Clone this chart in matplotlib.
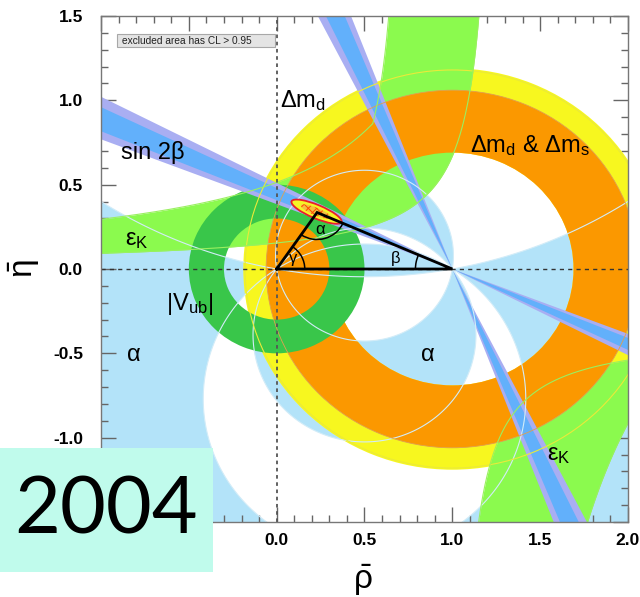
import numpy as np
import matplotlib
matplotlib.use("Agg")
import matplotlib.pyplot as plt
from matplotlib.patches import Wedge, Ellipse, Arc, Rectangle

plt.rcParams['font.family'] = ['Liberation Sans', 'DejaVu Sans']
plt.rcParams['mathtext.fontset'] = 'custom'
plt.rcParams['mathtext.rm'] = 'Liberation Sans'
plt.rcParams['mathtext.it'] = 'Liberation Sans'
plt.rcParams['mathtext.bf'] = 'Liberation Sans:bold'
plt.rcParams['hatch.linewidth'] = 0.7

# ---------------- data ----------------
x_lim = [-1.0, 2.0]
y_lim = [-1.5, 1.5]
x_ticks = [-1.0, -0.5, 0.0, 0.5, 1.0, 1.5, 2.0]
y_ticks = [-1.5, -1.0, -0.5, 0.0, 0.5, 1.0, 1.5]
x_tick_labels = ['', '', '0.0', '0.5', '1.0', '1.5', '2.0']      # first two hidden by the year box
y_tick_labels = ['', '-1.0', '-0.5', '0.0', '0.5', '1.0', '1.5']  # -1.5 hidden by the year box

apex = (0.23, 0.335)                 # (rho_bar, eta_bar) of the triangle apex

alpha_low = [81.0, 147.0]            # allowed alpha ranges, degrees, modulo 180
alpha_high = [128.0, 190.5]

sin2beta_outer = [0.67, 0.81]
sin2beta_inner = [0.70, 0.78]

dmd_radii = [0.69, 1.19]             # Delta m_d ring around (1,0)
dmd_dms_radii = [0.69, 1.06]         # Delta m_d & Delta m_s ring around (1,0)
vub_radii = [0.30, 0.50]             # |Vub| ring around (0,0)

# eps_K bands, hyperbolae eta = eta0 + k / (a - rho)  given as (a, k, eta0)
epsk_up_upper = [(1.352, 0.694, 0.0), (0.761, 0.1845, 0.0)]   # envelope (max)
epsk_up_lower = [(1.27, 0.1768, 0.0151)]
epsk_dn_upper = [(1.0, 0.169, -0.371)]
epsk_dn_lower = [(1.0, 1.963, 1.05)]

ellipse_outer = (0.227, 0.340, 0.31, 0.080, -23.5)   # cx, cy, width, height, angle
ellipse_inner = (0.225, 0.340, 0.19, 0.045, -23.5)

labels = [
    (r'$\Delta$m$_{\rm d}$', 0.02, 1.00),
    (r'$\Delta$m$_{\rm d}$ & $\Delta$m$_{\rm s}$', 1.10, 0.73),
    ('sin 2β', -0.885, 0.69),
    (r'ε$_{\rm K}$', -0.865, 0.17),
    (r'|V$_{\rm ub}$|', -0.63, -0.21),
    ('α', -0.85, -0.51),
    ('α', 0.82, -0.51),
    (r'ε$_{\rm K}$', 1.54, -1.10),
]

year = '2004'

# colours
c_alpha = '#b3e3f9'
c_yellow = '#f7f71f'
c_orange = '#fb9800'
c_epsk = '#8bfa4e'
c_vub = '#39c64a'
c_s2b_out = '#a9aef2'
c_s2b_in = '#62b0fb'

# ---------------- figure ----------------
fig = plt.figure(figsize=(6.4, 5.97), dpi=100)
ax = fig.add_axes([101 / 640, 1 - 522 / 597, 527 / 640, 506 / 597])
ax.set_xlim(*x_lim)
ax.set_ylim(*y_lim)

# alpha constraint: region on a grid
rr = np.linspace(x_lim[0] - 0.05, x_lim[1] + 0.05, 1100)
ee = np.linspace(y_lim[0] - 0.05, y_lim[1] + 0.05, 1100)
R, E = np.meshgrid(rr, ee)
Z = R + 1j * E
with np.errstate(all='ignore'):
    A = np.angle((Z - 1) / Z)
F = np.full(A.shape, -2.0)
for lo, hi in zip(alpha_low, alpha_high):
    c = np.radians(lo + hi)
    w = np.radians(hi - lo)
    F = np.maximum(F, np.cos(2 * A - c) - np.cos(w))
F = np.nan_to_num(F, nan=-1.0)
ax.contourf(R, E, F, levels=[0, 10], colors=[c_alpha], zorder=1, antialiased=True)

# Delta m_d (yellow)
ax.add_patch(Wedge((1, 0), dmd_radii[1], 0, 360, width=dmd_radii[1] - dmd_radii[0],
                   fc=c_yellow, ec='none', zorder=2))


# eps_K
def hyp(rho, params, upper_branch=True, mode='max'):
    vals = []
    for a, k, e0 in params:
        with np.errstate(all='ignore'):
            if upper_branch:
                v = np.where(rho < a, e0 + k / np.maximum(a - rho, 1e-9), np.inf)
            else:
                v = np.where(rho > a, e0 + k / np.minimum(a - rho, -1e-9), -np.inf)
        vals.append(v)
    vals = np.array(vals)
    return vals.max(axis=0) if mode == 'max' else vals.min(axis=0)


asym = [p[0] for p in epsk_up_upper + epsk_up_lower]
rho_up = np.concatenate([np.linspace(-1.1, 1.3, 3000)] +
                        [a - np.geomspace(0.5, 1e-4, 1500) for a in asym])
rho_up = np.unique(rho_up[rho_up < max(p[0] for p in epsk_up_lower)])
up_hi = np.clip(hyp(rho_up, epsk_up_upper, True, 'max'), -3, 3)
up_lo = np.clip(hyp(rho_up, epsk_up_lower, True, 'min'), -3, 3)
ax.fill_between(rho_up, up_lo, up_hi, where=up_lo < up_hi, color=c_epsk, lw=0, zorder=3)

rho_dn = np.unique(np.concatenate([np.linspace(1.0, 2.1, 3000),
                                   1.0 + np.geomspace(0.5, 1e-4, 1500)]))
rho_dn = rho_dn[rho_dn > 1.0]
dn_hi = np.clip(hyp(rho_dn, epsk_dn_upper, False, 'max'), -3, 3)
dn_lo = np.clip(hyp(rho_dn, epsk_dn_lower, False, 'min'), -3, 3)
ax.fill_between(rho_dn, dn_lo, dn_hi, where=dn_lo < dn_hi, color=c_epsk, lw=0, zorder=3)

# Delta m_d & Delta m_s (orange)
ax.add_patch(Wedge((1, 0), dmd_dms_radii[1], 0, 360, width=dmd_dms_radii[1] - dmd_dms_radii[0],
                   fc=c_orange, ec='none', zorder=4))

# |Vub| (dark green)
ax.add_patch(Wedge((0, 0), vub_radii[1], 0, 360, width=vub_radii[1] - vub_radii[0],
                   fc=c_vub, ec='none', zorder=5))

# sin 2beta wedges from (1,0)
for vals, col, z in [(sin2beta_outer, c_s2b_out, 6), (sin2beta_inner, c_s2b_in, 7)]:
    b1, b2 = [0.5 * np.degrees(np.arcsin(v)) for v in vals]
    for t1, t2 in [(180 - b2, 180 - b1), (360 - b2, 360 - b1),
                   (90 + b1, 90 + b2), (270 + b1, 270 + b2)]:
        ax.add_patch(Wedge((1, 0), 6, t1, t2, fc=col, ec='none', zorder=z))

# thin outlines of the constraints
ax.contour(R, E, F, levels=[0], colors=['#d2ecf8'], linewidths=0.8, zorder=8)
ax.add_patch(Arc((1, 0), 2 * dmd_radii[1] - 0.02, 2 * dmd_radii[1] - 0.02,
                 ec='#eaea3a', lw=0.8, zorder=8))
ax.add_patch(Arc((1, 0), 2 * dmd_dms_radii[1], 2 * dmd_dms_radii[1],
                 ec='#e0a050', lw=0.6, zorder=8))
for xs, ys in [(rho_up, up_hi), (rho_up, up_lo), (rho_dn, dn_hi), (rho_dn, dn_lo)]:
    ax.plot(xs, ys, color='#9af060', lw=0.8, zorder=8)

# dashed axes through the origin
ax.axhline(0, color='#333333', lw=1.0, ls=(0, (3, 3)), zorder=9)
ax.axvline(0, color='#555555', lw=1.3, ls=(0, (2, 2)), zorder=9)

# fit ellipse
cx, cy, w, h, ang = ellipse_outer
ax.add_patch(Ellipse((cx, cy), w, h, angle=ang, fc='#f5f526', ec='#e8202a', lw=1.3, zorder=10))
cx, cy, w, h, ang = ellipse_inner
ax.add_patch(Ellipse((cx, cy), w, h, angle=ang, fc='#f5c040', ec='#ff4a00', hatch='xxxx',
                     lw=0, zorder=11))

# unitarity triangle
ax.plot([0, apex[0], 1, 0], [0, apex[1], 0, 0], color='black', lw=2.0, zorder=12,
        solid_joinstyle='miter')
ang_to_0 = np.degrees(np.arctan2(-apex[1], -apex[0]))
ang_to_1 = np.degrees(np.arctan2(-apex[1], 1 - apex[0]))
ax.add_patch(Arc(apex, 0.32, 0.32, theta1=ang_to_0, theta2=ang_to_1, ec='black', lw=1.1, zorder=12))
gam = np.degrees(np.arctan2(apex[1], apex[0]))
ax.add_patch(Arc((0, 0), 0.32, 0.32, theta1=0, theta2=gam, ec='black', lw=1.1, zorder=12))
bet = np.degrees(np.arctan2(apex[1], 1 - apex[0]))
ax.add_patch(Arc((1, 0), 0.42, 0.42, theta1=180 - bet, theta2=180, ec='black', lw=1.1, zorder=12))
ax.text(0.095, 0.065, 'γ', fontsize=12, ha='center', va='center', zorder=13)
ax.text(0.68, 0.06, 'β', fontsize=12, ha='center', va='center', zorder=13)
ax.text(0.245, 0.235, 'α', fontsize=12, ha='center', va='center', zorder=13)

# region labels
for txt, x, y in labels:
    ax.text(x, y, txt, fontsize=17, ha='left', va='center', zorder=14)

# legend box
ax.add_patch(Rectangle((0.030, 0.938), 0.301, 0.026, transform=ax.transAxes,
                       fc='#e4e4e4', ec='#a8a8a8', lw=0.8, zorder=15))
ax.text(0.040, 0.951, 'excluded area has CL > 0.95', transform=ax.transAxes,
        fontsize=7.3, ha='left', va='center', color='#222222', zorder=16)

# axes styling
ax.set_xticks(x_ticks)
ax.set_yticks(y_ticks)
ax.set_xticklabels(x_tick_labels)
ax.set_yticklabels(y_tick_labels)
ax.set_xticks(np.arange(-1.0, 2.001, 0.1), minor=True)
ax.set_yticks(np.arange(-1.5, 1.501, 0.1), minor=True)
ax.tick_params(which='both', direction='in', top=True, right=True, color='#666666', width=1.0)
ax.tick_params(which='major', length=11, labelsize=12.5, pad=8)
ax.tick_params(which='minor', length=5)
ax.tick_params(axis='y', which='major', pad=13)
for lab in ax.get_xticklabels() + ax.get_yticklabels():
    lab.set_fontweight('bold')
for sp in ax.spines.values():
    sp.set_color('#777777')
    sp.set_linewidth(1.0)
    sp.set_zorder(20)

fig.text(363 / 640, 1 - 580 / 597, r'$\bar{\rho}$', fontsize=24, ha='center', va='center')
fig.text(24 / 640, 1 - 269 / 597, r'$\bar{\eta}$', fontsize=24, ha='center', va='center',
         rotation=90)

# year box
fig.patches.append(Rectangle((0, 1 - 572 / 597), 213 / 640, 124 / 597, transform=fig.transFigure,
                             fc='#c0fbec', ec='none', zorder=30))
fig.text(106 / 640, 1 - 512 / 597, year, fontsize=57, family=['Lato', 'DejaVu Sans'],
         ha='center', va='center', zorder=31)

fig.savefig('out.png', dpi=100)
